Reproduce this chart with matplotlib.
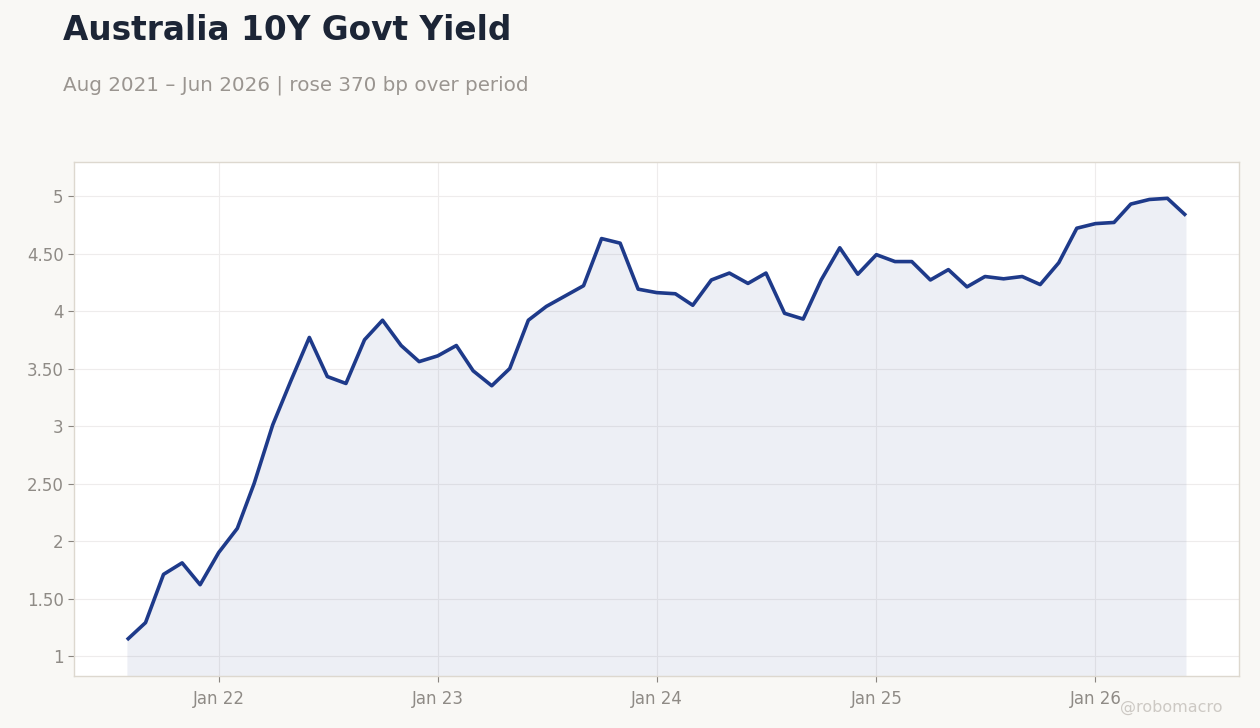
import numpy as np
import pandas as pd
import matplotlib
matplotlib.use('Agg')
import matplotlib.pyplot as plt
import matplotlib.dates as mdates
from matplotlib.ticker import FixedLocator, FuncFormatter

# monthly Australia 10Y yield, Aug 2021 - Jun 2026
months = pd.date_range('2021-08-01', '2026-06-01', freq='MS')
yields = [1.14, 1.29, 1.71, 1.81, 1.62,
          1.90, 2.11, 2.50, 3.01, 3.39, 3.77, 3.43, 3.37, 3.75, 3.92, 3.70, 3.56,
          3.61, 3.70, 3.48, 3.35, 3.50, 3.92, 4.04, 4.13, 4.22, 4.63, 4.59, 4.19,
          4.16, 4.15, 4.05, 4.27, 4.33, 4.24, 4.33, 3.98, 3.93, 4.27, 4.55, 4.32,
          4.49, 4.43, 4.43, 4.27, 4.36, 4.21, 4.30, 4.28, 4.30, 4.23, 4.42, 4.72,
          4.76, 4.77, 4.93, 4.97, 4.98, 4.83]
ytick_vals = [1, 1.5, 2, 2.5, 3, 3.5, 4, 4.5, 5]
title = 'Australia 10Y Govt Yield'
subtitle = 'Aug 2021 \u2013 Jun 2026 | rose 370 bp over period'

bg = '#f9f8f5'
navy = '#1e3a8a'
grey = '#8f8b86'

fig = plt.figure(figsize=(12.6, 7.28), dpi=100, facecolor=bg)
ax = fig.add_axes([0.0587, 0.0714, 0.9246, 0.7061])
ax.set_facecolor('white')

ax.fill_between(months, yields, 0, color=navy, alpha=0.08, linewidth=0)
ax.plot(months, yields, color=navy, linewidth=2.6, solid_capstyle='butt')

ax.set_ylim(0.826, 5.296)
ax.margins(x=0.05)
ax.yaxis.set_major_locator(FixedLocator(ytick_vals))
ax.yaxis.set_major_formatter(FuncFormatter(
    lambda v, p: f'{v:.0f}' if float(v).is_integer() else f'{v:.2f}'))
ax.xaxis.set_major_locator(mdates.YearLocator(month=1))
ax.xaxis.set_major_formatter(mdates.DateFormatter('Jan %y'))

ax.grid(True, color='#eeecec', linewidth=0.8)
ax.set_axisbelow(True)
for s in ax.spines.values():
    s.set_color('#ddd8cf')
    s.set_linewidth(1.0)
ax.tick_params(colors='#8a8580', labelcolor=grey, labelsize=12, length=4, width=0.8)
ax.tick_params(axis='x', pad=6)

fig.text(0.05, 0.945, title, fontsize=23.6, fontweight='bold', color='#1c2536', va='baseline')
fig.text(0.05, 0.876, subtitle, fontsize=14.3, color='#9a9590', va='baseline')
fig.text(0.97, 0.022, '@robomacro', fontsize=11.5, color='#cdc9c4', ha='right', va='baseline')

fig.savefig('out.png', dpi=100, facecolor=bg)
